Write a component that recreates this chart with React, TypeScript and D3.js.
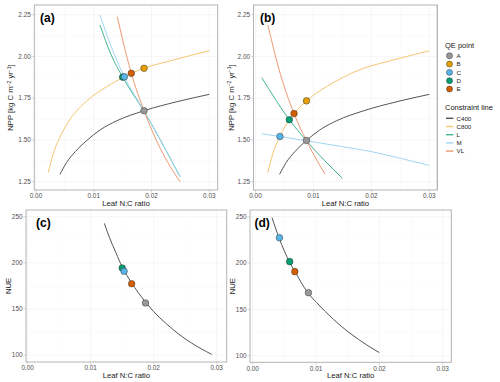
import React from "react"
import * as d3 from "d3"

// axes
const X_TICKS = [0, 0.01, 0.02, 0.03]
const X_MINOR = [0.005, 0.015, 0.025]
const NPP_TICKS = [1.25, 1.5, 1.75, 2, 2.25]
const NPP_MINOR = [1.375, 1.625, 1.875, 2.125]
const NUE_TICKS = [100, 150, 200, 250]
const NUE_MINOR = [125, 175, 225]

// QE points
const QE_NAMES = ["A", "B", "C", "D", "E"]
const QE_COLORS = ["#999999", "#E69F00", "#56B4E9", "#009E73", "#D55E00"]
const DRAW_ORDER = [0, 1, 4, 3, 2]

const QE_NC_A = [0.0187, 0.0187, 0.0153, 0.015, 0.0165]
const QE_NPP_A = [1.675, 1.929, 1.878, 1.876, 1.899]
const QE_NUE_A = [156.4, null, 190.8, 194.4, 177.3]

const QE_NC_B = [0.0088, 0.0088, 0.00422, 0.00584, 0.00665]
const QE_NPP_B = [1.497, 1.734, 1.521, 1.621, 1.658]
const QE_NUE_B = [168, null, 227.3, 201.5, 190.7]

// constraint lines [leaf N:C, NPP]
const LINE_NAMES = ["C400", "C800", "L", "M", "VL"]
const LINE_COLORS = ["#555555", "#F6C570", "#45B592", "#A2D6F3", "#EC9A74"]

const C400: [number, number][] = [
  [0.00415, 1.294], [0.0053, 1.365], [0.0068, 1.43], [0.0088, 1.497], [0.0111, 1.56],
  [0.014, 1.615], [0.0187, 1.675], [0.0244, 1.729], [0.03, 1.773],
]
const C800: [number, number][] = [
  [0.00213, 1.304], [0.003, 1.42], [0.00422, 1.521], [0.00584, 1.621], [0.00665, 1.658],
  [0.0088, 1.734], [0.0123, 1.82], [0.0152, 1.876], [0.0165, 1.899], [0.0187, 1.929],
  [0.0238, 1.979], [0.03, 2.034],
]
const L_A: [number, number][] = [
  [0.01108, 2.188], [0.013, 2.01], [0.015, 1.876], [0.0187, 1.672], [0.022, 1.47], [0.02493, 1.28],
]
const M_A: [number, number][] = [
  [0.01108, 2.248], [0.013, 2.06], [0.0153, 1.878], [0.0187, 1.675], [0.022, 1.47], [0.02493, 1.28],
]
const VL_A: [number, number][] = [
  [0.01407, 2.238], [0.015, 2.1], [0.0165, 1.899], [0.0187, 1.675], [0.0215, 1.45], [0.02493, 1.25],
]
const L_B: [number, number][] = [
  [0.00109, 1.873], [0.00584, 1.621], [0.0088, 1.495], [0.015, 1.27],
]
const M_B: [number, number][] = [
  [0.00109, 1.537], [0.00422, 1.521], [0.0088, 1.495], [0.015, 1.46], [0.02, 1.43],
  [0.025, 1.39], [0.03, 1.348],
]
const VL_B: [number, number][] = [
  [0.00214, 2.188], [0.004, 1.93], [0.00665, 1.658], [0.0088, 1.495], [0.012, 1.296],
]

// NUE curves [leaf N:C, NUE]
const NUE_A: [number, number][] = [
  [0.01216, 242.8], [0.013, 227], [0.014, 211], [0.015, 195.5], [0.016, 183.5], [0.017, 173],
  [0.018, 163.5], [0.019, 155], [0.02, 147], [0.022, 134], [0.024, 122.5], [0.026, 113],
  [0.0292, 100.7],
]
const NUE_B: [number, number][] = [
  [0.00305, 248.9], [0.00415, 227.3], [0.00578, 201.5], [0.00668, 190.7], [0.00869, 168],
  [0.01011, 157.2], [0.01273, 139.3], [0.01537, 124.2], [0.01801, 111.6], [0.02, 103.3],
]

const FONT = "Liberation Sans, Arial, sans-serif"
const TICK_COLOR = "#4D4D4D"

const nppTitle = (
  <>
    NPP [kg C m<tspan dy={-2.5} fontSize={5}>−2</tspan>
    <tspan dy={2.5}> yr</tspan>
    <tspan dy={-2.5} fontSize={5}>−1</tspan>
    <tspan dy={2.5}>]</tspan>
  </>
)

const Panel = ({ box, xRange, yDomain, yRange, yTicks, yMinor, yFmt, yTitle, tag, curves, points }) => {
  const x = d3.scaleLinear().domain([0, 0.03]).range(xRange)
  const y = d3.scaleLinear().domain(yDomain).range(yRange)
  const line = d3
    .line<[number, number]>()
    .x(d => x(d[0]))
    .y(d => y(d[1]))
    .curve(d3.curveMonotoneX)
  const [left, top, right, bottom] = box
  const inY = (v: number) => y(v) >= top && y(v) <= bottom

  return (
    <g>
      <rect x={left} y={top} width={right - left} height={bottom - top} fill="white" />
      {/* grid */}
      {X_MINOR.map(v => (
        <line key={"xm" + v} x1={x(v)} x2={x(v)} y1={top} y2={bottom} stroke="#F5F5F5" strokeWidth={0.4} />
      ))}
      {yMinor.filter(inY).map(v => (
        <line key={"ym" + v} x1={left} x2={right} y1={y(v)} y2={y(v)} stroke="#F5F5F5" strokeWidth={0.4} />
      ))}
      {X_TICKS.map(v => (
        <line key={"xg" + v} x1={x(v)} x2={x(v)} y1={top} y2={bottom} stroke="#EDEDED" strokeWidth={0.5} />
      ))}
      {yTicks.map(v => (
        <line key={"yg" + v} x1={left} x2={right} y1={y(v)} y2={y(v)} stroke="#EDEDED" strokeWidth={0.5} />
      ))}

      {curves.map((c, i) => (
        <path key={i} d={line(c.data)} fill="none" stroke={c.color} strokeWidth={1} />
      ))}

      {points.map(p => (
        <circle key={p.name} cx={x(p.x)} cy={y(p.y)} r={3.3} fill={p.color} stroke="#333" strokeWidth={0.5} />
      ))}

      <rect x={left} y={top} width={right - left} height={bottom - top} fill="none" stroke="#B3B3B3" strokeWidth={1} />

      {/* x axis */}
      {X_TICKS.map(v => (
        <g key={"xt" + v}>
          <line x1={x(v)} x2={x(v)} y1={bottom} y2={bottom + 2.7} stroke="#B3B3B3" strokeWidth={0.5} />
          <text x={x(v)} y={bottom + 8.2} textAnchor="middle" fontSize={6.4} fill={TICK_COLOR}>
            {d3.format(".2f")(v)}
          </text>
        </g>
      ))}
      <text x={(left + right) / 2} y={bottom + 15.5} textAnchor="middle" fontSize={7.7} fill="#1a1a1a">
        Leaf N:C ratio
      </text>

      {/* y axis */}
      {yTicks.map(v => (
        <g key={"yt" + v}>
          <line x1={left - 2.7} x2={left} y1={y(v)} y2={y(v)} stroke="#B3B3B3" strokeWidth={0.5} />
          <text x={left - 3.5} y={y(v) + 2.2} textAnchor="end" fontSize={6.4} fill={TICK_COLOR}>
            {yFmt(v)}
          </text>
        </g>
      ))}
      <text
        transform={`translate(${yTitle.x}, ${(top + bottom) / 2}) rotate(-90)`}
        textAnchor="middle"
        fontSize={7.7}
        fill="#1a1a1a"
      >
        {yTitle.text}
      </text>

      <text x={tag.x} y={top + 16.5} fontSize={12} fontWeight="bold" fill="#000">
        {tag.text}
      </text>
    </g>
  )
}

const makePoints = (nc: number[], vals: (number | null)[]) =>
  DRAW_ORDER.filter(i => vals[i] != null).map(i => ({
    name: QE_NAMES[i],
    color: QE_COLORS[i],
    x: nc[i],
    y: vals[i] as number,
  }))

const Legend = () => (
  <g>
    <text x={445} y={48} fontSize={7.5} fill="#1a1a1a">QE point</text>
    {QE_NAMES.map((n, i) => (
      <g key={n}>
        <circle cx={449.5} cy={55.8 + i * 8.3} r={3} fill={QE_COLORS[i]} stroke="#333" strokeWidth={0.5} />
        <text x={456.5} y={55.8 + i * 8.3 + 2.2} fontSize={6.2} fill="#1a1a1a">{n}</text>
      </g>
    ))}
    <text x={445} y={109.5} fontSize={7.5} fill="#1a1a1a">Constraint line</text>
    {LINE_NAMES.map((n, i) => (
      <g key={n}>
        <line x1={446} x2={453.3} y1={118.3 + i * 8.2} y2={118.3 + i * 8.2} stroke={LINE_COLORS[i]} strokeWidth={1.4} />
        <text x={456.5} y={118.3 + i * 8.2 + 2.2} fontSize={6.2} fill="#1a1a1a">{n}</text>
      </g>
    ))}
  </g>
)

export default function App() {
  const fmt2 = d3.format(".2f")
  const fmtInt = d3.format("d")
  const topCurves = (l, m, vl) => [
    { data: C400, color: LINE_COLORS[0] },
    { data: C800, color: LINE_COLORS[1] },
    { data: l, color: LINE_COLORS[2] },
    { data: m, color: LINE_COLORS[3] },
    { data: vl, color: LINE_COLORS[4] },
  ]

  return (
    <svg
      width={500}
      height={382}
      style={{ position: "absolute", left: 0, top: 0, background: "white" }}
      fontFamily={FONT}
    >
      <Panel
        box={[34.3, 5, 217.7, 190]}
        xRange={[36, 209.3]}
        yDomain={[1.25, 2.25]}
        yRange={[181.7, 14.7]}
        yTicks={NPP_TICKS}
        yMinor={NPP_MINOR}
        yFmt={fmt2}
        yTitle={{ x: 13, text: nppTitle }}
        tag={{ x: 40, text: "(a)" }}
        curves={topCurves(L_A, M_A, VL_A)}
        points={makePoints(QE_NC_A, QE_NPP_A)}
      />
      <Panel
        box={[253.5, 5, 437.3, 190]}
        xRange={[255.5, 429.3]}
        yDomain={[1.25, 2.25]}
        yRange={[181.7, 14.7]}
        yTicks={NPP_TICKS}
        yMinor={NPP_MINOR}
        yFmt={fmt2}
        yTitle={{ x: 233.5, text: nppTitle }}
        tag={{ x: 260, text: "(b)" }}
        curves={topCurves(L_B, M_B, VL_B)}
        points={makePoints(QE_NC_B, QE_NPP_B)}
      />
      <Panel
        box={[26, 210, 226.7, 362]}
        xRange={[27.7, 216.7]}
        yDomain={[100, 250]}
        yRange={[355, 216.7]}
        yTicks={NUE_TICKS}
        yMinor={NUE_MINOR}
        yFmt={fmtInt}
        yTitle={{ x: 10.5, text: "NUE" }}
        tag={{ x: 36, text: "(c)" }}
        curves={[{ data: NUE_A, color: "#555555" }]}
        points={makePoints(QE_NC_A, QE_NUE_A)}
      />
      <Panel
        box={[250, 210, 451.3, 362.3]}
        xRange={[252.7, 442.7]}
        yDomain={[100, 250]}
        yRange={[355.7, 216.7]}
        yTicks={NUE_TICKS}
        yMinor={NUE_MINOR}
        yFmt={fmtInt}
        yTitle={{ x: 234.5, text: "NUE" }}
        tag={{ x: 254.5, text: "(d)" }}
        curves={[{ data: NUE_B, color: "#555555" }]}
        points={makePoints(QE_NC_B, QE_NUE_B)}
      />
      <line x1={437.3} x2={437.3} y1={5} y2={190} stroke="#B3B3B3" strokeWidth={1} />
      <Legend />
    </svg>
  )
}
